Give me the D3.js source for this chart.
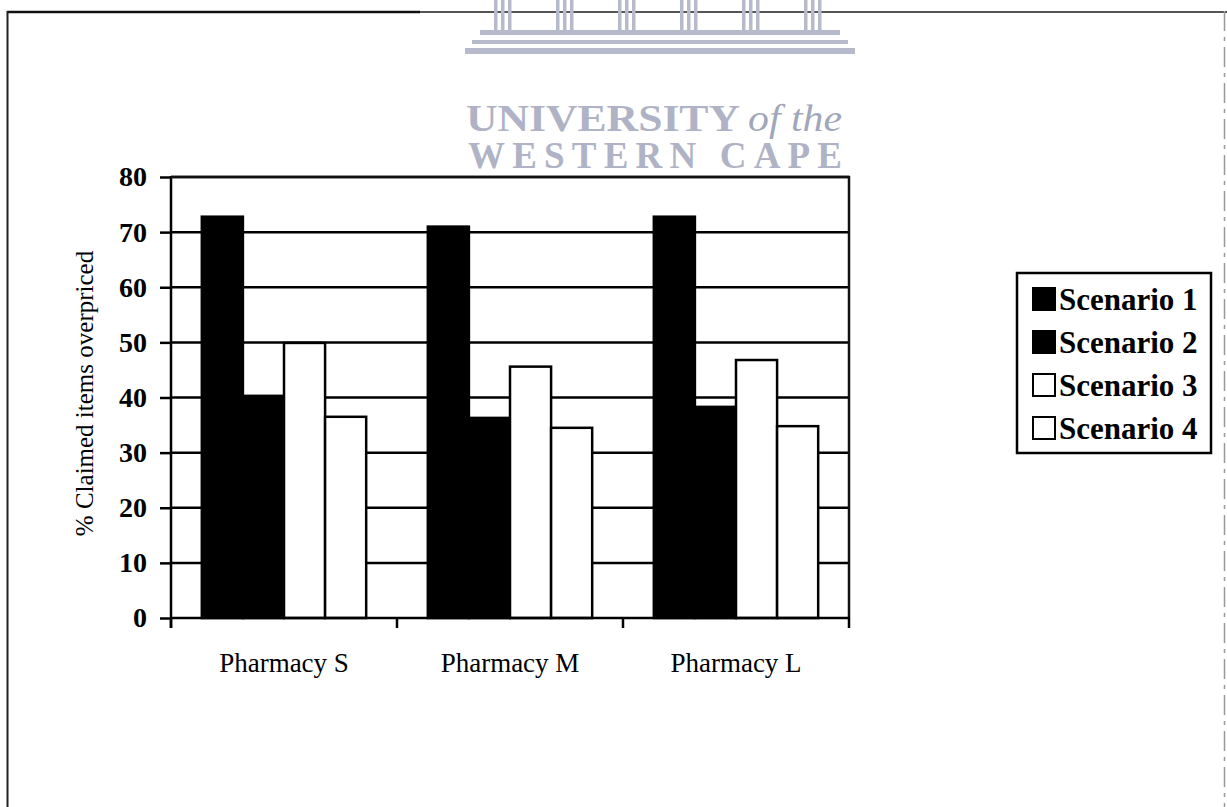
<!DOCTYPE html>
<html>
<head>
<meta charset="utf-8">
<script src="https://cdn.jsdelivr.net/npm/d3@7/dist/d3.min.js"></script>
<style>
  html, body { margin: 0; padding: 0; background: #ffffff; }
  svg { display: block; }
</style>
</head>
<body>
<svg id="chart" width="1227" height="807"></svg>
<script>
// ---- data ----
const categories = ["Pharmacy S", "Pharmacy M", "Pharmacy L"];
const seriesNames = ["Scenario 1", "Scenario 2", "Scenario 3", "Scenario 4"];
const scenario1 = [72.8, 71.0, 72.8];
const scenario2 = [40.3, 36.3, 38.3];
const scenario3 = [49.9, 45.6, 46.8];
const scenario4 = [36.5, 34.5, 34.8];
const seriesFill = ["#000000", "#000000", "#ffffff", "#ffffff"];
const yTicks = [0, 10, 20, 30, 40, 50, 60, 70, 80];
const yLabel = "% Claimed items overpriced";
const watermarkLine1 = "UNIVERSITY";
const watermarkLine1b = "of the";
const watermarkLine2 = "WESTERN CAPE";

const seriesValues = [scenario1, scenario2, scenario3, scenario4];
const rows = categories.map((c, i) => ({
  category: c,
  values: seriesNames.map((s, j) => ({ series: s, idx: j, value: seriesValues[j][i] }))
}));

const svg = d3.select("#chart");
const serif = "'Liberation Serif', 'Times New Roman', serif";

// ---- layout ----
const plot = { left: 171, right: 849, top: 177, bottom: 618 };

const x0 = d3.scaleBand().domain(categories).range([plot.left, plot.right]).paddingInner(0).paddingOuter(0);
const x1 = d3.scaleBand().domain(seriesNames).range([0, x0.bandwidth()]).paddingInner(0).paddingOuter(0.75);
const y = d3.scaleLinear().domain([0, 80]).range([plot.bottom, plot.top]);

// ---- outer frame ----
svg.append("line").attr("x1", 7).attr("x2", 420).attr("y1", 12).attr("y2", 12)
  .attr("stroke", "#111").attr("stroke-width", 2.5);
svg.append("line").attr("x1", 420).attr("x2", 1227).attr("y1", 12).attr("y2", 12)
  .attr("stroke", "#555").attr("stroke-width", 2);
svg.append("line").attr("x1", 7.5).attr("x2", 7.5).attr("y1", 11).attr("y2", 807)
  .attr("stroke", "#222").attr("stroke-width", 2);
svg.append("line").attr("x1", 1224.5).attr("x2", 1224.5).attr("y1", 11).attr("y2", 807)
  .attr("stroke", "#999").attr("stroke-width", 1.5).attr("stroke-dasharray", "20 6 4 6");

// ---- watermark (logo + text) ----
const wm = svg.append("g").attr("fill", "#b7bacb").attr("stroke", "none");
const colX = [494, 556, 618, 680, 742, 804];
colX.forEach(cx => {
  [0, 7, 14].forEach(dx => {
    wm.append("rect").attr("x", cx + dx).attr("y", 0).attr("width", 3.5).attr("height", 30);
  });
});
wm.append("rect").attr("x", 480).attr("y", 30).attr("width", 360).attr("height", 5);
wm.append("rect").attr("x", 472).attr("y", 40).attr("width", 376).attr("height", 4);
wm.append("rect").attr("x", 465).attr("y", 48).attr("width", 390).attr("height", 6);

const wmText = svg.append("g").attr("fill", "#a2a6bb").style("font-family", serif);
wmText.append("text").attr("x", 466).attr("y", 131)
  .attr("textLength", 274).attr("lengthAdjust", "spacingAndGlyphs")
  .style("font-size", "37px").style("font-weight", "bold").attr("opacity", 0.85).text(watermarkLine1);
wmText.append("text").attr("x", 748).attr("y", 131)
  .attr("textLength", 94).attr("lengthAdjust", "spacingAndGlyphs")
  .style("font-size", "37px").style("font-style", "italic").text(watermarkLine1b);
wmText.append("text").attr("x", 468).attr("y", 168)
  .attr("textLength", 374).attr("lengthAdjust", "spacing")
  .style("font-size", "37px").style("font-weight", "bold").attr("opacity", 0.85).text(watermarkLine2);

// ---- gridlines ----
svg.append("g").selectAll("line").data(yTicks.filter(t => t > 0)).join("line")
  .attr("x1", plot.left).attr("x2", plot.right)
  .attr("y1", d => y(d)).attr("y2", d => y(d))
  .attr("stroke", "#000").attr("stroke-width", 2.5);

// plot right border
svg.append("line").attr("x1", plot.right).attr("x2", plot.right)
  .attr("y1", plot.top - 1).attr("y2", plot.bottom)
  .attr("stroke", "#111").attr("stroke-width", 2.5);

// ---- bars ----
const groups = svg.append("g").selectAll("g").data(rows).join("g")
  .attr("transform", d => `translate(${x0(d.category)},0)`);
groups.selectAll("rect").data(d => d.values).join("rect")
  .attr("x", d => x1(d.series))
  .attr("y", d => y(d.value))
  .attr("width", x1.bandwidth())
  .attr("height", d => y(0) - y(d.value))
  .attr("fill", d => seriesFill[d.idx])
  .attr("stroke", "#000").attr("stroke-width", 2.5);

// ---- axes ----
const yAxis = d3.axisLeft(y).tickValues(yTicks).tickSize(11).tickPadding(13).tickSizeOuter(0);
const gy = svg.append("g").attr("transform", `translate(${plot.left},0)`).call(yAxis);
gy.select(".domain").remove();
gy.selectAll(".tick line").attr("stroke", "#000").attr("stroke-width", 2.5);
gy.selectAll(".tick text").attr("fill", "#000")
  .style("font-family", serif).style("font-size", "28px").style("font-weight", "bold");

svg.append("line").attr("x1", plot.left).attr("x2", plot.left)
  .attr("y1", plot.top - 1).attr("y2", plot.bottom + 10)
  .attr("stroke", "#000").attr("stroke-width", 2.5);
svg.append("line").attr("x1", plot.left).attr("x2", plot.right + 1)
  .attr("y1", plot.bottom).attr("y2", plot.bottom)
  .attr("stroke", "#000").attr("stroke-width", 2.5);
// plot top border
svg.append("line").attr("x1", plot.left).attr("x2", plot.right + 1)
  .attr("y1", plot.top).attr("y2", plot.top)
  .attr("stroke", "#111").attr("stroke-width", 2.5);

// category boundary ticks
const bounds = categories.map(c => x0(c)).concat([x0(categories[categories.length - 1]) + x0.bandwidth()]);
svg.append("g").selectAll("line").data(bounds).join("line")
  .attr("x1", d => d).attr("x2", d => d)
  .attr("y1", plot.bottom).attr("y2", plot.bottom + 10)
  .attr("stroke", "#000").attr("stroke-width", 2.5);

// category labels
const xAxis = d3.axisBottom(x0).tickSize(0).tickPadding(0);
const gx = svg.append("g").attr("transform", `translate(0,${plot.bottom})`).call(xAxis);
gx.select(".domain").remove();
gx.selectAll(".tick text").attr("fill", "#000").attr("dy", null).attr("y", 54)
  .style("font-family", serif).style("font-size", "27px");

// y-axis title
svg.append("text")
  .attr("transform", `translate(93,${(plot.top + plot.bottom) / 2 - 4}) rotate(-90)`)
  .attr("text-anchor", "middle")
  .style("font-family", serif).style("font-size", "25px").attr("fill", "#000")
  .text(yLabel);

// ---- legend ----
const legend = { x: 1017, y: 273, w: 194, h: 180, rowH: 43, firstBase: 310 };
svg.append("rect").attr("x", legend.x).attr("y", legend.y)
  .attr("width", legend.w).attr("height", legend.h)
  .attr("fill", "#fff").attr("stroke", "#000").attr("stroke-width", 2.5);
const li = svg.append("g").selectAll("g").data(seriesNames).join("g")
  .attr("transform", (d, i) => `translate(0,${legend.firstBase + i * legend.rowH})`);
li.append("rect").attr("x", 1033).attr("y", -22).attr("width", 22).attr("height", 22)
  .attr("fill", (d, i) => seriesFill[i]).attr("stroke", "#000").attr("stroke-width", 2);
li.append("text").attr("x", 1059).attr("y", 0)
  .style("font-family", serif).style("font-size", "31px").style("font-weight", "bold")
  .attr("fill", "#000").text(d => d);
</script>
</body>
</html>
